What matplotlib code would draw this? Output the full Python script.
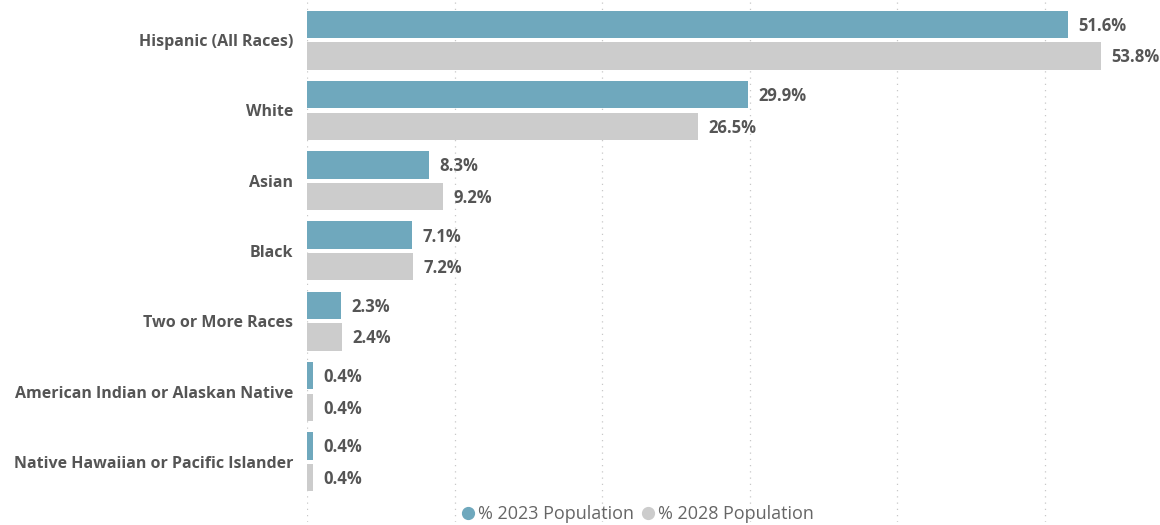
import numpy as np
import matplotlib.pyplot as plt
from matplotlib.lines import Line2D

# Population share by race / ethnicity
categorias = ['Hispanic (All Races)', 'White', 'Asian', 'Black', 'Two or More Races',
              'American Indian or Alaskan Native', 'Native Hawaiian or Pacific Islander']
pob_2023 = [51.6, 29.9, 8.3, 7.1, 2.3, 0.4, 0.4]
pob_2028 = [53.8, 26.5, 9.2, 7.2, 2.4, 0.4, 0.4]
series = ['% 2023 Population', '% 2028 Population']

azul = '#6fa8bd'
gris = '#cccccc'
texto = '#555555'

plt.rcParams['font.family'] = ['Open Sans', 'DejaVu Sans']

fig = plt.figure(figsize=(11.6, 5.25), dpi=100)
ax = fig.add_axes([307 / 1160, 1 - 522 / 525, (1160 - 307) / 1160, 522 / 525])

y = np.arange(len(categorias))
alto = 0.39
desp = 0.225
ax.barh(y - desp, pob_2023, height=alto, color=azul, zorder=2)
ax.barh(y + desp, pob_2028, height=alto, color=gris, zorder=2)

# Etiquetas de valor junto a cada barra
for yi, v in zip(y - desp, pob_2023):
    ax.text(v + 0.7, yi + 0.02, f'{v:.1f}%', va='center', ha='left', fontsize=12,
            fontweight='bold', color=texto)
for yi, v in zip(y + desp, pob_2028):
    ax.text(v + 0.7, yi + 0.02, f'{v:.1f}%', va='center', ha='left', fontsize=12,
            fontweight='bold', color=texto)

ax.set_xlim(0, (1160 - 307) / 14.75)
ax.set_ylim(len(categorias) - 1 + 0.857, -0.571)
ax.set_yticks(y)
ax.set_yticklabels(categorias, fontsize=11.5, fontweight='bold', color=texto)
ax.tick_params(axis='y', length=0, pad=10)
ax.set_xticks(np.arange(0, 60, 10))
ax.tick_params(axis='x', length=0, labelbottom=False)
ax.grid(axis='x', linestyle=(0, (1, 4)), color='#c8c8c8', linewidth=0.9, zorder=0)
for s in ax.spines.values():
    s.set_visible(False)

# Leyenda inferior
handles = [Line2D([], [], marker='o', linestyle='', markersize=8.5, color=azul),
           Line2D([], [], marker='o', linestyle='', markersize=8.5, color=gris)]
leg = fig.legend(handles, series, loc='center', bbox_to_anchor=(637 / 1160, 1 - 514 / 525),
                 ncol=2, frameon=False, fontsize=13, handletextpad=0.1,
                 columnspacing=0.3, handlelength=0.9)
for t in leg.get_texts():
    t.set_color('#666666')

fig.savefig('out.png', dpi=100, facecolor='white')
